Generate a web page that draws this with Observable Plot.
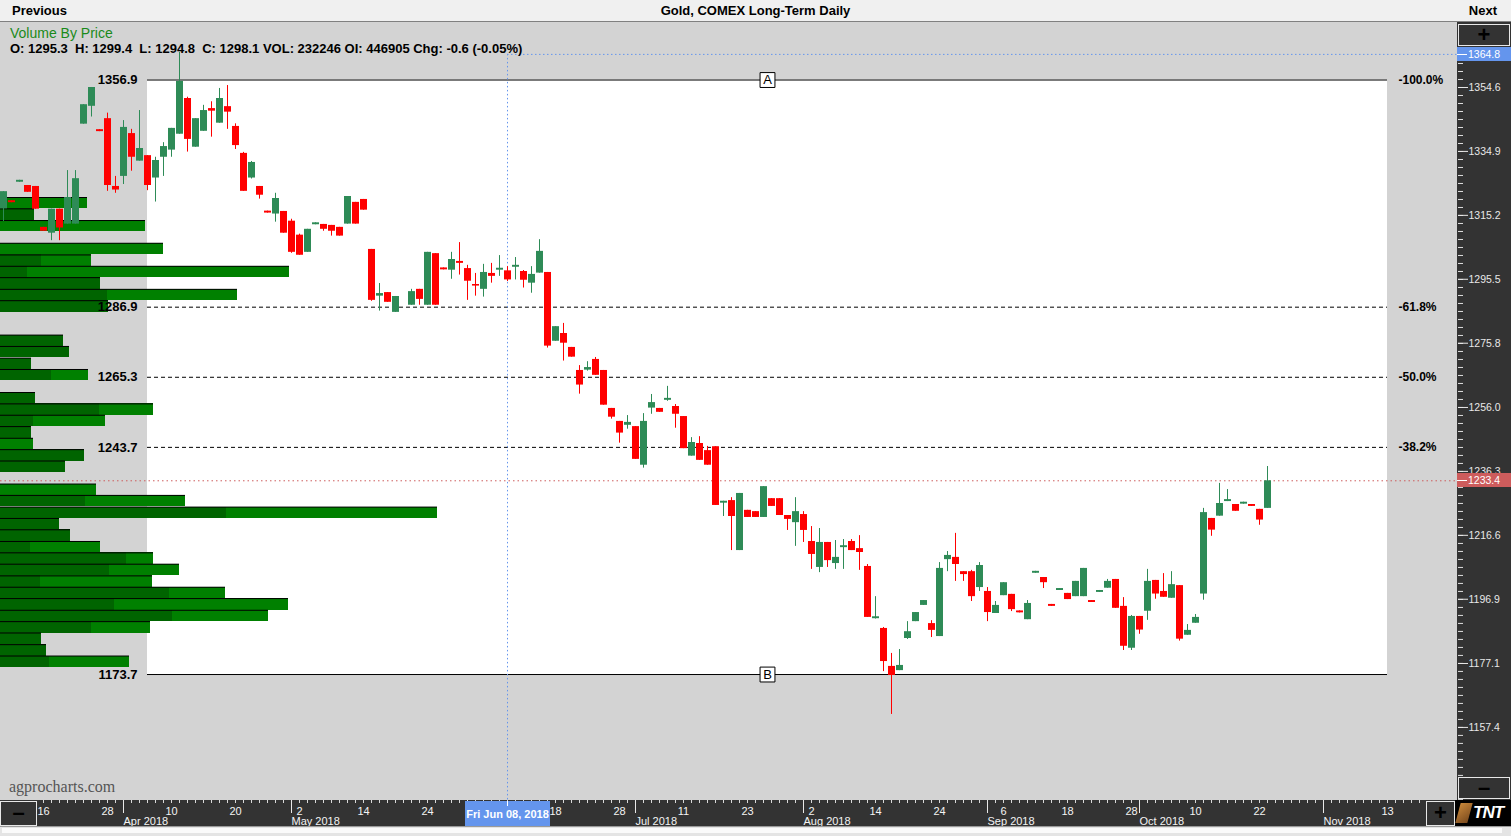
<!DOCTYPE html>
<html>
<head>
<meta charset="utf-8">
<script src="https://cdn.jsdelivr.net/npm/d3@7"></script>
<script src="https://cdn.jsdelivr.net/npm/@observablehq/plot@0.6"></script>
<style>
html,body{margin:0;padding:0}
body{width:1511px;height:836px;overflow:hidden;background:#d3d3d3;position:relative;font-family:"Liberation Sans",Arial,Helvetica,sans-serif}
.abs{position:absolute}
#hdr{left:0;top:0;width:1511px;height:21px;background:#f0f0f0;border-bottom:1px solid #808080;font-weight:bold;font-size:13px;line-height:21px;color:#000}
.btn{position:absolute;background:#333;box-sizing:border-box;border:1px solid #e8e8e8;color:#000;font-weight:bold;text-align:center}
.layer{position:absolute;left:0;top:22px}
.layer svg{display:block}
</style>
</head>
<body>
<div id="hdr" class="abs">
  <span class="abs" style="left:12px">Previous</span>
  <span class="abs" style="left:0;width:1511px;text-align:center">Gold, COMEX Long-Term Daily</span>
  <span class="abs" style="right:14px">Next</span>
</div>
<div class="abs" style="left:1457px;top:22px;width:54px;height:778px;background:#333"></div>
<div class="abs" style="left:0;top:800px;width:1511px;height:26px;background:#333"></div>
<div id="layers"></div>
<div class="abs" style="left:10px;top:25px;font-size:14px;color:#1a8a1a">Volume By Price</div>
<div class="abs" id="ohlc" style="left:10px;top:41px;font-size:13px;font-weight:bold;color:#000;white-space:pre"></div>
<div class="abs" id="wm" style="left:9px;top:778px;font-size:16px;color:#555;font-family:'Liberation Serif','DejaVu Serif',serif">agprocharts.com</div>
<div class="btn" style="left:1458px;top:24px;width:52px;height:22px;font-size:22px;line-height:19px">+</div>
<div class="btn" style="left:1458px;top:777px;width:52px;height:22px;font-size:22px;line-height:19px">&#8211;</div>
<div class="btn" style="left:0;top:801px;width:37px;height:25px;font-size:22px;line-height:22px">&#8211;</div>
<div class="btn" style="left:1426px;top:801px;width:29px;height:25px;font-size:22px;line-height:22px">+</div>
<div class="abs" style="left:1455px;top:800px;width:56px;height:26px;background:#000;overflow:hidden">
  <div class="abs" style="left:3px;top:3px;width:12px;height:20px;background:linear-gradient(135deg,#c8873a,#7a4a1e);transform:skewX(-15deg)"></div>
  <div class="abs" style="left:18px;top:3px;font-size:17px;font-weight:bold;font-style:italic;color:#fff;letter-spacing:-1px">TNT</div>
</div>
<div class="abs" style="left:0;top:826px;width:1511px;height:10px;background:#e4e4e4;border-top:1px solid #9a9a9a;box-sizing:border-box">
  <div class="abs" style="left:2px;top:1px;width:1500px;height:5px;background:#fafafa"></div>
</div>
<script>
// ---------------- DATA ----------------
const startDate = "2018-03-09";
const endDate = "2018-11-30";
const holidays = ["2018-03-30", "2018-05-28", "2018-07-04", "2018-09-03", "2018-11-22"];

// daily OHLC, one entry per trading day from startDate (null = no data)
const opens = [
  1317.2,1319.7,1325.4,1324.4,1324.1,1311.5,1309.7,1317.1,1312.5,1312.5,
  1343.3,1348.8,1341.6,1345.0,1324.1,1327.2,1340.4,1331.9,1333.6,1326.7,
  1333.1,1335.3,1340.2,1351.2,1336.2,1341.1,1348.1,1343.6,1348.7,1342.6,
  1334.3,1326.7,1324.1,1316.5,1315.6,1316.4,1313.4,1309.1,1303.8,1312.3,
  1312.4,1312.1,1311.5,1312.5,1319.2,1320.1,1304.7,1290.3,1291.4,1285.3,
  null,1287.5,1292.4,1287.5,1303.4,1299.0,1298.3,1301.0,1298.8,1293.9,
  1292.4,1297.3,1298.3,1298.1,1299.2,1297.9,1294.3,1297.4,1297.6,1276.4,
  1278.8,1274.5,1267.4,1267.5,1270.8,1267.4,1255.7,1251.7,1250.5,1250.1,
  1238.2,1255.8,1255.7,1258.2,1256.3,1253.2,1241.0,1244.9,1242.7,1243.9,
  1226.5,1227.3,1211.9,1224.3,1223.9,1222.1,1227.9,1227.9,1222.7,1220.5,
  1223.0,1214.7,1206.7,1214.4,1207.9,1212.8,1214.7,1212.5,1207.0,1190.9,
  1187.9,1176.2,1174.9,1184.8,1190.0,1195.0,1189.4,1185.4,1209.1,1209.8,
  1205.4,1205.4,1200.5,1199.3,1192.5,1198.0,1198.4,1193.3,1190.6,1204.9,
  1203.6,1195.3,1199.6,1198.7,1197.7,1197.7,1196.5,1199.0,1200.3,1203.0,
  1194.7,1181.8,1191.6,1193.2,1202.7,1199.3,1197.2,1201.1,1185.8,1189.5,
  1198.5,1221.8,1222.5,1227.0,1226.1,1226.2,1226.1,1224.6,1224.9
];
const highs = [
  1322.5,1319.7,1326.0,1324.4,1324.1,1311.5,1317.1,1317.1,1329.0,1329.0,
  1349.3,1354.6,1341.6,1346.7,1327.2,1344.4,1341.7,1347.5,1333.6,1333.1,
  1337.6,1342.0,1365.4,1351.6,1345.0,1349.1,1350.2,1354.3,1355.2,1343.4,
  1334.6,1331.8,1324.1,1316.5,1322.0,1316.4,1314.0,1309.4,1310.9,1312.9,
  1312.4,1312.1,1311.5,1321.0,1319.2,1320.1,1304.7,1294.2,1291.4,1290.2,
  null,1292.4,1292.4,1303.8,1303.4,1299.0,1303.8,1306.8,1299.8,1297.3,
  1300.1,1300.4,1302.8,1299.4,1302.2,1298.2,1299.4,1307.7,1297.6,1280.9,
  1281.9,1274.5,1268.9,1270.1,1271.4,1267.4,1255.7,1251.7,1253.5,1250.1,
  1254.1,1260.0,1255.7,1262.5,1256.9,1253.2,1246.7,1247.0,1244.0,1243.9,
  1227.1,1228.2,1229.5,1224.3,1223.9,1231.6,1227.9,1227.9,1222.7,1228.2,
  1223.9,1219.3,1218.7,1214.4,1215.0,1215.3,1215.3,1216.5,1207.6,1197.7,
  1188.2,1180.2,1181.4,1190.0,1192.8,1196.5,1190.3,1208.2,1211.6,1217.2,
  1205.4,1205.8,1208.2,1200.5,1196.2,1202.0,1198.4,1193.3,1196.5,1205.5,
  1203.6,1195.3,1200.2,1198.7,1202.4,1206.4,1196.5,1199.6,1203.0,1203.0,
  1197.4,1191.9,1191.6,1206.1,1202.7,1204.8,1205.4,1201.1,1189.1,1192.2,
  1224.9,1221.8,1232.6,1230.7,1226.1,1226.8,1226.1,1224.6,1237.8
];
const lows = [
  1313.3,1319.1,1325.4,1322.3,1317.1,1310.3,1307.4,1307.4,1312.5,1312.5,
  1343.3,1345.5,1341.0,1322.6,1322.0,1324.7,1328.8,1331.9,1322.8,1319.3,
  1327.2,1333.1,1340.2,1334.7,1336.2,1341.1,1339.3,1343.6,1341.7,1335.5,
  1322.6,1326.4,1320.2,1315.9,1313.1,1309.7,1303.5,1302.9,1303.8,1312.3,
  1310.3,1308.8,1308.8,1312.5,1312.5,1316.8,1288.7,1285.7,1288.4,1285.3,
  null,1287.5,1287.5,1287.5,1287.5,1298.4,1295.5,1296.8,1289.0,1290.3,
  1290.0,1294.3,1296.4,1294.8,1295.3,1292.8,1291.2,1297.4,1274.3,1276.4,
  1270.3,1271.5,1260.1,1267.2,1265.9,1256.7,1252.4,1245.0,1249.3,1240.0,
  1237.3,1253.9,1254.5,1257.9,1249.6,1243.3,1241.0,1239.7,1238.2,1225.8,
  1222.4,1211.9,1211.9,1222.1,1222.1,1222.1,1225.5,1222.7,1218.1,1213.2,
  1214.4,1206.1,1205.1,1206.7,1206.1,1206.1,1211.9,1205.8,1191.3,1190.8,
  1174.6,1161.4,1174.9,1184.5,1190.0,1195.0,1185.1,1185.4,1205.4,1202.4,
  1202.4,1196.2,1199.3,1190.0,1192.5,1198.0,1193.1,1192.7,1190.6,1204.9,
  1200.2,1194.7,1199.6,1196.8,1197.7,1197.7,1195.9,1199.0,1200.3,1194.1,
  1181.1,1181.1,1186.1,1190.4,1196.9,1197.5,1197.2,1184.0,1185.8,1189.5,
  1196.6,1216.3,1222.5,1227.0,1224.0,1226.2,1225.5,1219.7,1224.9
];
const closes = [
  1322.5,1319.1,1326.0,1322.3,1317.1,1310.3,1317.1,1311.3,1320.7,1326.5,
  1349.3,1354.6,1341.0,1324.4,1323.0,1342.3,1333.1,1335.8,1324.4,1332.1,
  1336.4,1342.0,1356.5,1338.6,1345.0,1347.5,1347.3,1351.2,1347.0,1336.7,
  1322.6,1331.5,1321.4,1315.9,1320.4,1309.7,1303.8,1302.9,1310.9,1312.9,
  1310.9,1310.3,1308.8,1321.0,1312.5,1316.8,1289.0,1291.1,1288.4,1290.2,
  null,1291.7,1289.3,1303.8,1287.5,1298.4,1301.6,1300.4,1294.9,1293.4,
  1297.6,1296.4,1298.9,1295.3,1299.8,1295.2,1297.0,1304.1,1274.9,1280.9,
  1275.8,1271.5,1262.9,1268.3,1265.9,1256.7,1253.0,1248.1,1251.4,1240.0,
  1251.7,1257.5,1254.5,1258.8,1253.9,1243.3,1245.2,1239.7,1238.2,1225.8,
  1227.1,1222.4,1229.5,1222.1,1222.1,1231.6,1225.5,1222.7,1221.5,1223.9,
  1218.1,1210.7,1214.4,1208.8,1209.8,1213.4,1211.9,1211.3,1191.3,1191.5,
  1177.7,1173.4,1176.5,1186.9,1192.8,1196.5,1187.3,1206.4,1210.4,1207.6,
  1204.5,1197.7,1207.3,1192.8,1195.0,1202.0,1193.7,1192.7,1195.6,1205.5,
  1202.0,1194.7,1200.2,1196.8,1202.4,1206.4,1195.9,1199.6,1202.4,1194.1,
  1182.4,1191.6,1187.4,1202.4,1198.5,1197.5,1201.4,1184.6,1187.3,1191.3,
  1223.6,1218.2,1226.4,1227.6,1224.0,1226.8,1225.5,1221.3,1233.4
];

// volume-by-price bins (top price of each bin), dark and total volume (thousand contracts, est.)
const vbpBinSize = 3.53;
const vbpTop = [1320.7,1317.2,1313.6,1310.1,1306.6,1303.0,1299.5,1296.0,1292.4,1288.9,
  1285.4,1281.8,1278.3,1274.8,1271.2,1267.7,1264.2,1260.6,1257.1,1253.6,
  1250.1,1246.5,1243.0,1239.5,1235.9,1232.4,1228.9,1225.3,1221.8,1218.3,
  1214.7,1211.2,1207.7,1204.1,1200.6,1197.1,1193.5,1190.0,1186.5,1182.9,1179.4];
const vbpDark = [0,34,0,0,0,41,27,100,107,108,0,0,63,69,31,51,0,35,99,33,
  31,0,84,65,0,0,85,226,59,70,30,126,109,40,169,114,172,91,41,46,49];
const vbpTotal = [87,34,145,0,163,91,289,100,237,108,0,0,63,69,31,88,0,35,153,105,
  31,33,84,65,0,96,185,437,59,70,100,153,179,152,225,288,268,150,41,46,129];

// Fibonacci retracement
const fibLevels = [1356.9, 1286.9, 1265.3, 1243.7, 1173.7];
const fibPercents = ["-100.0%", "-61.8%", "-50.0%", "-38.2%", null];
const fibAnchors = ["A", null, null, null, "B"];
const fibStart = "2018-04-05", fibEnd = "2018-11-13";

// axes
const yMajor = [1354.6,1334.9,1315.2,1295.5,1275.8,1256.0,1236.3,1216.6,1196.9,1177.1,1157.4];
const dayTickDates = ["2018-03-16","2018-03-28","2018-04-10","2018-04-20","2018-05-02","2018-05-14","2018-05-24",
  "2018-06-18","2018-06-28","2018-07-11","2018-07-23","2018-08-02","2018-08-14","2018-08-24","2018-09-06",
  "2018-09-18","2018-09-28","2018-10-10","2018-10-22","2018-11-13"];
const monthTickDates = ["2018-04-02","2018-05-01","2018-06-01","2018-07-02","2018-08-01","2018-09-04","2018-10-01","2018-11-01"];
const monthLabelDates = ["2018-04-02","2018-05-01","2018-07-02","2018-08-01","2018-09-04","2018-10-01","2018-11-01"];

const lastPrice = 1233.4;
const crossDate = "2018-06-08", crossPrice = 1364.8;
const ohlcText = "O: 1295.3  H: 1299.4  L: 1294.8  C: 1298.1 VOL: 232246 OI: 446905 Chg: -0.6 (-0.05%)";

// ---------------- BUILD ----------------
document.getElementById("ohlc").textContent = ohlcText;

const tradingDays = [];
for (let d = new Date(startDate + "T00:00:00Z"); d <= new Date(endDate + "T00:00:00Z"); d.setUTCDate(d.getUTCDate() + 1)) {
  const wd = d.getUTCDay(), s = d.toISOString().slice(0, 10);
  if (wd > 0 && wd < 6 && !holidays.includes(s)) tradingDays.push(s);
}
const idx = s => tradingDays.indexOf(s);
const parse = s => new Date(s + "T00:00:00Z");

const candles = opens.map((o, i) => o == null ? null : {i, date: tradingDays[i], open: o, high: highs[i], low: lows[i], close: closes[i]}).filter(Boolean);
const up = candles.filter(d => d.close >= d.open);
const down = candles.filter(d => d.close < d.open);

const fibs = fibLevels.map((level, j) => ({level, pct: fibPercents[j], anchor: fibAnchors[j], solid: fibAnchors[j] != null}));
const fibX1 = idx(fibStart), fibX2 = idx(fibEnd);

const vbp = vbpTop.map((top, j) => ({top, bottom: top - vbpBinSize, dark: vbpDark[j], total: vbpTotal[j]})).filter(d => d.total > 0);

const W = 1511, H = 804;
const yDomain = [1134.88, 1374.32];
const xDomain = [-0.375, 181.75];
const base = {
  width: W, height: H, marginTop: 1, marginBottom: 26, marginLeft: 0, marginRight: 54,
  style: {background: "transparent", overflow: "visible", fontFamily: '"Liberation Sans", Arial, sans-serif', fontSize: "11px"}
};
function addLayer(svg) {
  const d = document.createElement("div");
  d.className = "layer";
  d.appendChild(svg);
  document.getElementById("layers").appendChild(d);
  return svg;
}

// layer 1: retracement zone
addLayer(Plot.plot({
  ...base,
  x: {domain: xDomain, axis: null},
  y: {domain: yDomain, axis: null},
  marks: [
    Plot.rect([fibs[0]], {x1: fibX1, x2: fibX2, y1: fibLevels[fibLevels.length - 1], y2: fibLevels[0], fill: "white"})
  ]
}));

// layer 2: volume by price
addLayer(Plot.plot({
  ...base,
  x: {domain: [0, 1457], axis: null},
  y: {domain: yDomain, axis: null},
  marks: [
    Plot.rect(vbp, {x1: 0, x2: "total", y1: "bottom", y2: "top", fill: "#008000", shapeRendering: "crispEdges"}),
    Plot.rect(vbp.filter(d => d.dark > 0), {x1: 0, x2: "dark", y1: "bottom", y2: "top", fill: "#006400", shapeRendering: "crispEdges"}),
    Plot.ruleY(vbp, {y: "top", x1: 0, x2: "total", stroke: "#000", strokeWidth: 1})
  ]
}));

// layer 3: lines, candles, axes
const yStep = (yMajor[0] - yMajor[yMajor.length - 1]) / (yMajor.length - 1) / 8;
const yMinor = d3.range(-12, 110).map(k => yMajor[yMajor.length - 1] + k * yStep).filter(v => v > yDomain[0] && v < yDomain[1]);
const xMinor = d3.range(5, 178);
const monthIdx = monthTickDates.map(idx);
const monthLabelIdx = monthLabelDates.map(idx);
const dayIdx = dayTickDates.map(idx);
const fmtMonth = d3.utcFormat("%b %Y");
const GREEN = "#2e8b57", RED = "#ff0000";

const p3 = addLayer(Plot.plot({
  ...base,
  x: {domain: xDomain},
  y: {domain: yDomain},
  marks: [
    Plot.ruleY([lastPrice], {stroke: "#cd5c5c", strokeDasharray: "1.5,3"}),
    Plot.ruleY(fibs.filter(d => d.solid), {y: "level", x1: fibX1, x2: fibX2, stroke: "#000"}),
    Plot.ruleY(fibs.filter(d => !d.solid), {y: "level", x1: fibX1, x2: fibX2, stroke: "#000", strokeDasharray: "4,3"}),
    Plot.text(fibs, {x: fibX1, y: "level", text: d => d.level.toFixed(1), textAnchor: "end", dx: -10, fontWeight: "bold", fontSize: 13, fill: "#000"}),
    Plot.text(fibs.filter(d => d.pct), {x: fibX2, y: "level", text: "pct", textAnchor: "start", dx: 11, fontWeight: "bold", fontSize: 12, fill: "#000"}),
    Plot.ruleX([idx(crossDate)], {y1: crossPrice, y2: yDomain[0], stroke: "#6495ed", strokeDasharray: "1.5,2.5"}),
    Plot.ruleY([crossPrice], {x1: idx(crossDate), x2: xDomain[1], stroke: "#6495ed", strokeDasharray: "1.5,2.5"}),
    Plot.ruleX(up, {x: "i", y1: "low", y2: "high", stroke: GREEN, strokeWidth: 1}),
    Plot.ruleX(down, {x: "i", y1: "low", y2: "high", stroke: RED, strokeWidth: 1}),
    Plot.ruleX(up, {x: "i", y1: "open", y2: "close", stroke: GREEN, strokeWidth: 7}),
    Plot.ruleX(down, {x: "i", y1: "open", y2: "close", stroke: RED, strokeWidth: 7}),
    Plot.dot(fibs.filter(d => d.anchor), {x: (fibX1 + fibX2) / 2, y: "level", symbol: "square", r: 8.4, fill: "white", stroke: "#000", strokeWidth: 1}),
    Plot.text(fibs.filter(d => d.anchor), {x: (fibX1 + fibX2) / 2, y: "level", text: "anchor", fontSize: 13, fill: "#000"}),
    // right price axis
    Plot.axisY(yMinor, {anchor: "right", tickSize: 5, tickFormat: () => "", color: "#e0e0e0", label: null}),
    Plot.axisY(yMajor, {anchor: "right", tickSize: 10, tickPadding: 1, tickFormat: d => d.toFixed(1), color: "#e8e8e8", fontSize: 10.5, label: null}),
    // bottom date axis
    Plot.axisX(xMinor, {anchor: "bottom", tickSize: 3, tickFormat: () => "", color: "#d8d8d8", label: null}),
    Plot.axisX(monthIdx, {anchor: "bottom", tickSize: 13, tickFormat: () => "", color: "#e8e8e8", label: null}),
    Plot.axisX(dayIdx, {anchor: "bottom", tickSize: 0, tickPadding: 7, tickFormat: i => String(+tradingDays[i].slice(8)), color: "#f4f4f4", fontSize: 11, label: null}),
    Plot.axisX(monthLabelIdx, {anchor: "bottom", tickSize: 0, tickPadding: 17, tickFormat: i => fmtMonth(parse(tradingDays[i])), textAnchor: "start", color: "#f4f4f4", fontSize: 11, label: null})
  ]
}));

// value tags positioned through the plot's scales
const ys = p3.scale("y"), xs = p3.scale("x");
function priceTag(v, bg) {
  const yc = ys.apply(v) + 22;
  const el = document.createElement("div");
  el.className = "abs";
  el.style.cssText = `left:1457px;top:${yc - 7}px;width:54px;height:14px;background:${bg};color:#fff;font-size:10.5px;line-height:14px;box-sizing:border-box;padding-left:11px`;
  el.innerHTML = `<div class="abs" style="left:0;top:7px;width:10px;height:1px;background:#fff"></div>`;
  el.appendChild(document.createTextNode(v.toFixed(1)));
  document.body.appendChild(el);
}
priceTag(crossPrice, "#6495ed");
priceTag(lastPrice, "#cd5c5c");

const cx = xs.apply(idx(crossDate)) + 0.5;
const box = document.createElement("div");
box.className = "abs";
box.style.cssText = `left:${cx - 42.5}px;top:801px;width:85px;height:25px;background:#6495ed;color:#fff;font-size:11px;font-weight:bold;line-height:27px;text-align:center;white-space:nowrap;overflow:hidden`;
box.innerHTML = `<div class="abs" style="left:42px;top:0;width:1px;height:5px;background:#fff"></div>`;
box.appendChild(document.createTextNode(d3.utcFormat("%a %b %d, %Y")(parse(crossDate))));
document.body.appendChild(box);
</script>
</body>
</html>
